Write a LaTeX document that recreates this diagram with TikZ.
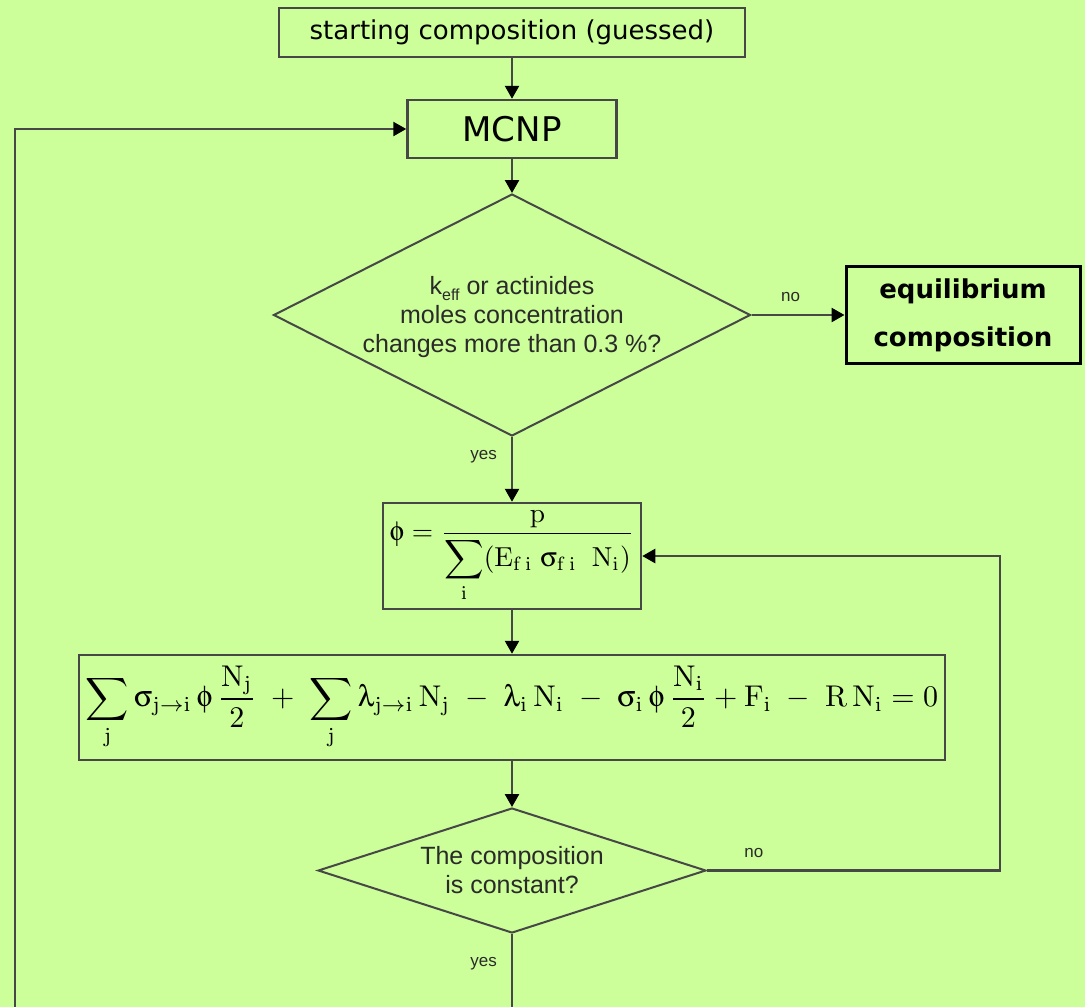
\documentclass[tikz,border=0pt]{standalone}
\usepackage[no-math]{fontspec}
\usepackage{amsmath}
\usepackage[Symbol]{upgreek}
\setmainfont{DejaVu Sans}
\newfontfamily\arialf{Liberation Sans}
\usetikzlibrary{shapes.geometric,arrows.meta}
\definecolor{bg}{HTML}{CCFF99}
\definecolor{ln}{HTML}{474747}
\definecolor{tx}{HTML}{2A2A2A}
\begin{document}
\begin{tikzpicture}[x=1pt,y=-1pt,
  box/.style={draw=ln, line width=2.5pt, fill=bg, rectangle, inner sep=0pt, anchor=center},
  dia/.style={draw=ln, line width=2pt, fill=bg, diamond, inner sep=0pt, anchor=center},
  dtext/.style={font=\arialf\fontsize{25}{29}\selectfont, text=tx, align=center},
  conn/.style={draw=ln, line width=2.5pt, -{Triangle[length=13pt,width=14pt,color=black]}},
  lbl/.style={font=\arialf\fontsize{17}{17}\selectfont, text=tx, inner sep=0pt}
]
\fill[bg] (0,0) rectangle (1085,1007);
\useasboundingbox (0,0) rectangle (1085,1007);
\clip (0,0) rectangle (1085,1007);

% nodes
\node[box, minimum width=466pt, minimum height=49pt, font=\fontsize{26}{26}\selectfont] (start) at (512,32.5) {starting composition (guessed)};
\node[box, minimum width=209pt, minimum height=58pt, font=\fontsize{34}{34}\selectfont] (mcnp) at (512,129) {MCNP};
\node[dia, minimum width=477pt, minimum height=242pt] (d1) at (512,315) {};
\node[dtext] (d1t) at (512,317) {k\raisebox{-6pt}{\fontsize{16}{16}\selectfont eff} or actinides\\moles concentration\\changes more than 0.3 \%?};
\node[box, draw=black, line width=3pt, minimum width=234pt, minimum height=97pt, align=center,
      font=\bfseries\fontsize{26}{48}\selectfont] (equil) at (963,315) {equilibrium\\composition};
\node[box, minimum width=258pt, minimum height=106pt] (phi) at (512,556)
  {\resizebox{244pt}{!}{$\displaystyle \upphi=\frac{\mathrm{p}}{\displaystyle\sum_{\mathrm{i}}(\mathrm{E}_{\mathrm{f\,i}}\;\upsigma_{\mathrm{f\,i}}\;\;\mathrm{N}_{\mathrm{i}})}$}};
\node[box, minimum width=866pt, minimum height=105pt] (bal) at (512,707.5)
  {\resizebox{852pt}{!}{$\displaystyle \sum_{\mathrm{j}}\upsigma_{\mathrm{j}\to\mathrm{i}}\,\upphi\,\frac{\mathrm{N_j}}{2}\;+\;\sum_{\mathrm{j}}\uplambda_{\mathrm{j}\to\mathrm{i}}\,\mathrm{N_j}\;-\;\uplambda_{\mathrm{i}}\,\mathrm{N_i}\;-\;\upsigma_{\mathrm{i}}\,\upphi\,\frac{\mathrm{N_i}}{2}+\mathrm{F_i}\;-\;\mathrm{R\,N_i}=0$}};
\node[dia, minimum width=388pt, minimum height=125pt] (d2) at (512,870.5) {};
\node[dtext] (d2t) at (512,870) {The composition\\is constant?};

% free ends
\coordinate (noR) at (1000,870.5);
\coordinate (loopR) at (512,1040);
\coordinate (loopL) at (15,1040);

% connectors
\draw[conn] (start.south) -- (mcnp.north);
\draw[conn] (mcnp.south) -- (d1.north);
\draw[conn] (d1.east) -- node[lbl, pos=0.42, above=12pt] {no} (equil.west);
\draw[conn] (d1.south) -- node[lbl, pos=0.31, left=14pt] {yes} (phi.north);
\draw[conn] (phi.south) -- (bal.north);
\draw[conn] (bal.south) -- (d2.north);
\draw[conn] (d2.east) -- node[lbl, pos=0.16, above=12pt] {no} (noR) |- (phi.east);
\draw[conn] (d2.south) -- node[lbl, pos=0.28, left=14pt] {yes} (loopR) -- (loopL) |- (mcnp.west);
\end{tikzpicture}
\end{document}
